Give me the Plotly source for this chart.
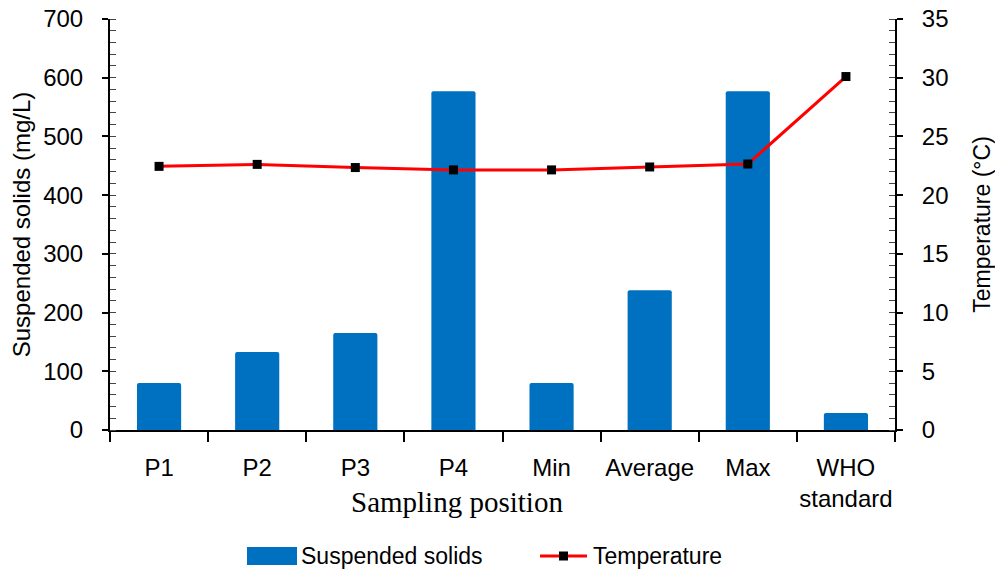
import plotly.graph_objects as go

categories = ["P1", "P2", "P3", "P4", "Min", "Average", "Max", "WHO<br>standard"]
suspended_solids = [80, 133, 165, 577, 80, 238, 577, 29]
temperature = [22.45, 22.62, 22.35, 22.15, 22.15, 22.4, 22.65, 30.1]

W, H = 995, 573
L, R, T, B = 110, 100, 19, 143
PW, PH = W - L - R, H - T - B


def px(x):
    return (x - L) / PW


def py(y):
    return (H - B - y) / PH


fig = go.Figure()
fig.add_trace(go.Bar(
    x=categories, y=suspended_solids, name="Suspended solids",
    marker=dict(color="#0070C0", line=dict(width=0), cornerradius=2),
    width=0.45, yaxis="y", showlegend=False))
fig.add_trace(go.Scatter(
    x=categories, y=temperature, name="Temperature", mode="lines+markers",
    line=dict(color="#FF0000", width=3),
    marker=dict(symbol="square", size=9, color="black"), yaxis="y2", showlegend=False))

font_sans = "Liberation Sans, Arial, sans-serif"
shapes = [
    dict(type="rect", xref="paper", yref="paper", x0=px(247), x1=px(297), y0=py(565), y1=py(547),
         fillcolor="#0070C0", line=dict(width=0)),
    dict(type="line", xref="paper", yref="paper", x0=px(540), x1=px(587), y0=py(556), y1=py(556),
         line=dict(color="#FF0000", width=3)),
    dict(type="rect", xref="paper", yref="paper", x0=px(559), x1=px(568), y0=py(560.5), y1=py(551.5),
         fillcolor="black", line=dict(width=0)),
]
annotations = [
    dict(text="Suspended solids", xref="paper", yref="paper", x=px(299), y=py(556),
         xanchor="left", yanchor="middle", showarrow=False, font=dict(size=23)),
    dict(text="Temperature", xref="paper", yref="paper", x=px(591), y=py(556),
         xanchor="left", yanchor="middle", showarrow=False, font=dict(size=23)),
    dict(text="Sampling position", xref="paper", yref="paper", x=px(457), y=py(502),
         xanchor="center", yanchor="middle", showarrow=False,
         font=dict(family="Liberation Serif, Times New Roman, serif", size=29)),
]

fig.update_layout(
    width=W, height=H,
    margin=dict(l=L, r=R, t=T, b=B),
    paper_bgcolor="white", plot_bgcolor="white",
    font=dict(family=font_sans, size=24, color="black"),
    showlegend=False,
    shapes=shapes, annotations=annotations,
    xaxis=dict(
        type="category", tickson="boundaries", ticks="outside", ticklen=10, tickwidth=1.5,
        tickcolor="black", showline=True, linecolor="black", linewidth=2, tickangle=0,
        showgrid=False, tickfont=dict(size=24), automargin=False, ticklabelstandoff=15,
        range=[-0.5, 7.5],
    ),
    xaxis2=dict(
        overlaying="x", anchor="y", range=[-0.5, 7.5], tickvals=list(range(8)),
        ticks="inside", ticklen=6, tickwidth=1.5, tickcolor="black",
        showticklabels=False, showgrid=False, zeroline=False, showline=False, automargin=False,
    ),
    yaxis=dict(
        range=[0, 700], dtick=100, ticks="outside", ticklen=6, tickwidth=1.5, tickcolor="black",
        showline=True, linecolor="black", linewidth=2, showgrid=False, zeroline=False,
        minor=dict(dtick=20, ticks="inside", ticklen=6, tickcolor="#444", tickwidth=1.2),
        tickfont=dict(size=24), automargin=False, ticklabelstandoff=14,
        title=dict(text="Suspended solids (mg/L)", font=dict(size=24), standoff=6),
    ),
    yaxis2=dict(
        range=[0, 35], dtick=5, overlaying="y", side="right", ticks="outside", ticklen=6,
        tickwidth=1.5, tickcolor="black", showline=True, linecolor="black", linewidth=2,
        showgrid=False, zeroline=False, automargin=False, ticklabelstandoff=14,
        minor=dict(dtick=1, ticks="inside", ticklen=6, tickcolor="#444", tickwidth=1.2),
        tickfont=dict(size=24),
        title=dict(text="Temperature (°C)", font=dict(size=23), standoff=27),
    ),
)
fig.write_html("out.html")
